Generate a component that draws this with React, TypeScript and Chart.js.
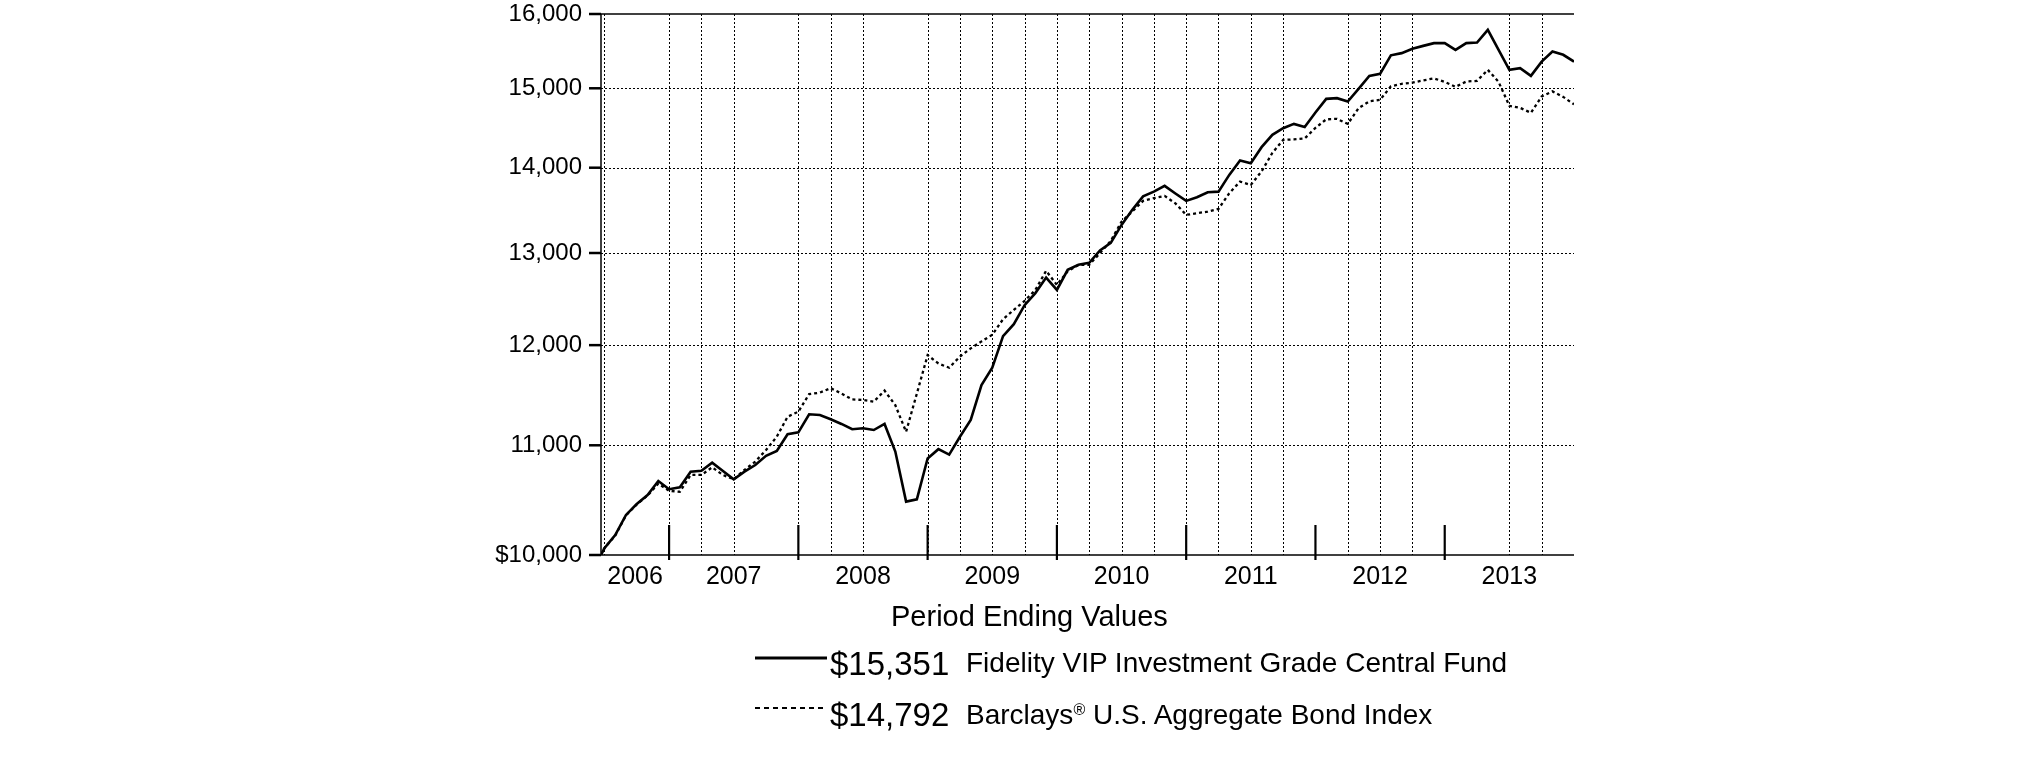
import React, { useEffect, useRef } from "react";
import { Chart, registerables } from "chart.js";

Chart.register(...registerables);

// Months relative to Dec 2006 (=0); first entry is the fund inception in June 2006
const monthIndex = [
  -6.32, -6, -5, -4, -3, -2, -1,
  0, 1, 2, 3, 4, 5, 6, 7, 8, 9, 10, 11,
  12, 13, 14, 15, 16, 17, 18, 19, 20, 21, 22, 23,
  24, 25, 26, 27, 28, 29, 30, 31, 32, 33, 34, 35,
  36, 37, 38, 39, 40, 41, 42, 43, 44, 45, 46, 47,
  48, 49, 50, 51, 52, 53, 54, 55, 56, 57, 58, 59,
  60, 61, 62, 63, 64, 65, 66, 67, 68, 69, 70, 71,
  72, 73, 74, 75, 76, 77, 78, 79, 80, 81, 82, 83,
  84,
];

const fundValues = [
  10000, 10060, 10175, 10354, 10453, 10535, 10664,
  10588, 10606, 10751, 10760, 10835, 10757, 10680, 10751, 10813, 10900, 10946, 11106,
  11124, 11300, 11293, 11252, 11206, 11155, 11164, 11147, 11206, 10940, 10475, 10496,
  10875, 10963, 10911, 11082, 11245, 11590, 11767, 12094, 12221, 12424, 12555, 12726,
  12590, 12811, 12867, 12889, 13030, 13115, 13321, 13497, 13655, 13712, 13781, 13690,
  13602, 13645, 13705, 13712, 13913, 14087, 14055, 14252, 14405, 14488, 14543, 14505,
  14688, 14863, 14872, 14828, 14993, 15163, 15189, 15436, 15465, 15523, 15563, 15600,
  15600, 15509, 15600, 15608, 15781, 15509, 15242, 15264, 15163, 15351, 15487, 15443,
  15351,
];

const indexValues = [
  10000, 10060, 10170, 10350, 10450, 10530, 10640,
  10574, 10565, 10720, 10720, 10791, 10720, 10680, 10767, 10845, 10955, 11083, 11276,
  11326, 11500, 11515, 11560, 11506, 11447, 11442, 11425, 11535, 11390, 11130, 11506,
  11896, 11810, 11767, 11882, 11966, 12039, 12108, 12273, 12373, 12470, 12590, 12800,
  12645, 12795, 12867, 12867, 13000, 13138, 13359, 13478, 13602, 13634, 13661, 13573,
  13438, 13457, 13476, 13508, 13693, 13832, 13792, 13956, 14181, 14342, 14349, 14360,
  14493, 14601, 14607, 14543, 14743, 14831, 14850, 15025, 15058, 15073, 15103, 15130,
  15083, 15019, 15088, 15097, 15242, 15083, 14773, 14747, 14684, 14894, 14960, 14888,
  14792,
];

const yTickValues = [10000, 11000, 12000, 13000, 14000, 15000, 16000];
const yearLabels = ["2006", "2007", "2008", "2009", "2010", "2011", "2012", "2013"];
const yearLabelMonths = [-3.16, 6, 18, 30, 42, 54, 66, 78];
const yearEndMonths = [0, 12, 24, 36, 48, 60, 72];
const gridMonths = [-6, 0, 3, 6, 12, 15, 18, 24, 27, 30, 33, 36, 39, 42, 45, 48, 51, 54, 57, 63, 66, 69, 78, 81];

const fundName = "Fidelity VIP Investment Grade Central Fund";
const indexNameStart = "Barclays";
const indexNameMark = "\u00AE";
const indexNameEnd = " U.S. Aggregate Bond Index";
const fundEnd = "$15,351";
const indexEnd = "$14,792";

const FONT = "'Liberation Sans', Arial, Helvetica, sans-serif";

const gridPlugin = {
  id: "customGrid",
  beforeDatasetsDraw(chart: any) {
    const { ctx, chartArea: a, scales } = chart;
    const x = scales.x;
    const y = scales.y;
    const line = (x1: number, y1: number, x2: number, y2: number) => {
      ctx.beginPath();
      ctx.moveTo(x1, y1);
      ctx.lineTo(x2, y2);
      ctx.stroke();
    };
    ctx.save();
    ctx.strokeStyle = "#000";
    ctx.lineWidth = 1;
    ctx.setLineDash([2, 2]);
    const yMin = yTickValues[0];
    const yMax = yTickValues[yTickValues.length - 1];
    for (const v of yTickValues) {
      if (v === yMin || v === yMax) continue;
      const py = Math.round(y.getPixelForValue(v)) + 0.5;
      line(a.left, py, a.right, py);
    }
    for (const m of gridMonths) {
      const px = Math.round(x.getPixelForValue(m)) + 0.5;
      line(px, a.top, px, a.bottom);
    }
    ctx.setLineDash([]);
    ctx.lineWidth = 1.5;
    line(a.left, a.top, a.right, a.top);
    line(a.left, a.top, a.left, a.bottom);
    line(a.left, a.bottom, a.right, a.bottom);
    ctx.lineWidth = 2.2;
    for (const m of yearEndMonths) {
      const px = x.getPixelForValue(m);
      line(px, a.bottom - 30, px, a.bottom + 5);
    }
    ctx.lineWidth = 2.5;
    for (const v of yTickValues) {
      const py = y.getPixelForValue(v);
      line(a.left - 12, py, a.left, py);
    }
    ctx.restore();
  },
};

const zeroPad = (s: any) => {
  s.paddingTop = 0;
  s.paddingBottom = 0;
  s.paddingLeft = 0;
  s.paddingRight = 0;
};

export default function App() {
  const ref = useRef<HTMLCanvasElement>(null);

  useEffect(() => {
    const canvas = ref.current;
    if (!canvas) return;
    const chart = new Chart(canvas, {
      type: "line",
      data: {
        datasets: [
          {
            label: fundName,
            data: monthIndex.map((m, i) => ({ x: m, y: fundValues[i] })),
            borderColor: "#000",
            borderWidth: 2.6,
            pointRadius: 0,
            tension: 0,
            fill: false,
          },
          {
            label: indexNameStart + indexNameMark + indexNameEnd,
            data: monthIndex.map((m, i) => ({ x: m, y: indexValues[i] })),
            borderColor: "#000",
            borderWidth: 2.3,
            borderDash: [3, 3],
            pointRadius: 0,
            tension: 0,
            fill: false,
          },
        ],
      },
      options: {
        animation: false,
        responsive: false,
        devicePixelRatio: 1,
        layout: { padding: { left: 471, right: 451, top: 14, bottom: 166 } },
        plugins: { legend: { display: false }, tooltip: { enabled: false } },
        scales: {
          x: {
            type: "linear",
            min: monthIndex[0],
            max: monthIndex[monthIndex.length - 1],
            grid: { display: false, drawTicks: false },
            border: { display: false },
            afterBuildTicks: (s: any) => {
              s.ticks = yearLabelMonths.map((v) => ({ value: v }));
            },
            afterFit: (s: any) => {
              s.height = 40;
              zeroPad(s);
            },
            ticks: {
              autoSkip: false,
              maxRotation: 0,
              minRotation: 0,
              padding: 7,
              color: "#000",
              font: { family: FONT, size: 25 },
              callback: (_v: any, i: number) => yearLabels[i],
            },
          },
          y: {
            type: "logarithmic",
            min: yTickValues[0],
            max: yTickValues[yTickValues.length - 1],
            grid: { display: false, drawTicks: false },
            border: { display: false },
            afterBuildTicks: (s: any) => {
              s.ticks = yTickValues.map((v) => ({ value: v }));
            },
            afterFit: (s: any) => {
              s.width = 130;
              zeroPad(s);
            },
            ticks: {
              padding: 19,
              color: "#000",
              font: { family: FONT, size: 24 },
              callback: (v: any) => {
                const n = Number(v);
                const s = n.toLocaleString("en-US");
                return n === yTickValues[0] ? "$" + s : s;
              },
            },
          },
        },
      },
      plugins: [gridPlugin],
    } as any);
    return () => chart.destroy();
  }, []);

  const textBase: React.CSSProperties = {
    position: "absolute",
    whiteSpace: "nowrap",
    fontFamily: FONT,
    color: "#000",
  };

  return (
    <div style={{ position: "fixed", left: 0, top: 0, width: 2025, height: 761, background: "#fff" }}>
      <canvas ref={ref} width={2025} height={761} style={{ position: "absolute", left: 0, top: 0 }} />
      <div style={{ ...textBase, left: 891, top: 602, fontSize: 29, lineHeight: "29px" }}>
        Period Ending Values
      </div>
      <svg style={{ position: "absolute", left: 755, top: 655 }} width={76} height={6}>
        <line x1={0} y1={3} x2={72} y2={3} stroke="#000" strokeWidth={3} />
      </svg>
      <div style={{ ...textBase, left: 830, top: 646.5, fontSize: 33, lineHeight: "33px" }}>
        {fundEnd}
      </div>
      <div style={{ ...textBase, left: 966, top: 649, fontSize: 28, lineHeight: "28px" }}>
        {fundName}
      </div>
      <svg style={{ position: "absolute", left: 755, top: 705 }} width={76} height={6}>
        <line x1={0} y1={3} x2={72} y2={3} stroke="#000" strokeWidth={2} strokeDasharray="5,4" />
      </svg>
      <div style={{ ...textBase, left: 830, top: 698, fontSize: 33, lineHeight: "33px" }}>
        {indexEnd}
      </div>
      <div style={{ ...textBase, left: 966, top: 700.5, fontSize: 28, lineHeight: "28px" }}>
        {indexNameStart}
        <span style={{ fontSize: 16, position: "relative", top: -9 }}>{indexNameMark}</span>
        {indexNameEnd}
      </div>
    </div>
  );
}
